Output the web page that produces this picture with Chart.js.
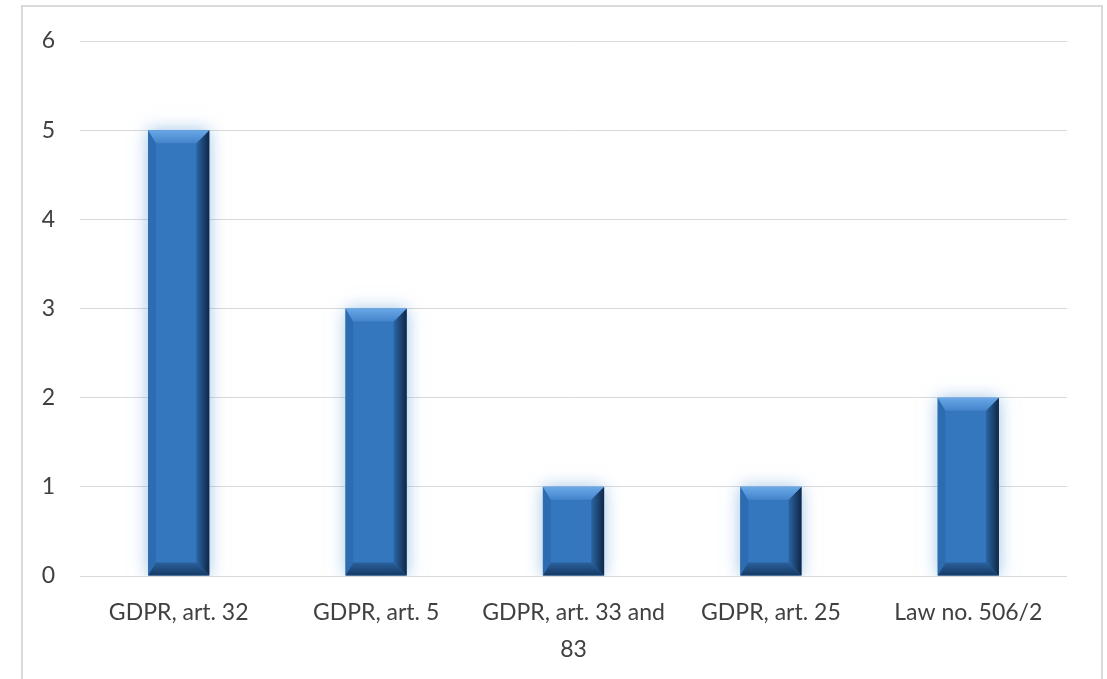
<!DOCTYPE html>
<html>
<head>
<meta charset="utf-8">
<script src="https://cdn.jsdelivr.net/npm/chart.js@4"></script>
<style>
  html, body { margin: 0; padding: 0; background: #fff; overflow: hidden; }
  #wrap { position: absolute; left: 0; top: 0; width: 1107px; height: 679px; }
  #frame { position: absolute; left: 21px; top: 5px; width: 1078px; height: 720px; border: 2px solid #d9d9d9; }
  canvas { position: absolute; left: 0; top: 0; }
</style>
</head>
<body>
<div id="wrap">
  <div id="frame"></div>
  <canvas id="grafico" width="1107" height="679"></canvas>
</div>
<script>
const categorias = [
  'GDPR, art. 32',
  'GDPR, art. 5',
  ['GDPR, art. 33 and', '83'],
  'GDPR, art. 25',
  'Law no. 506/2'
];
const valores = [5, 3, 1, 1, 2];
const ticksY = [0, 1, 2, 3, 4, 5, 6];

const fonteX = { family: 'Lato, "Noto Sans", sans-serif', size: 23, lineHeight: 1.6 };
const fonteY = { family: 'Lato, "Noto Sans", sans-serif', size: 23, lineHeight: 1.2 };

// brilho azul em volta das barras + chanfro estilo Excel
const chanfro = {
  id: 'chanfro',
  beforeDatasetsDraw(chart) {
    const ctx = chart.ctx;
    ctx.save();
    ctx.shadowColor = 'rgba(91, 155, 213, 0.6)';
    ctx.shadowBlur = 16;
  },
  afterDatasetsDraw(chart) {
    const ctx = chart.ctx;
    ctx.restore();
    const meta = chart.getDatasetMeta(0);
    meta.data.forEach(bar => {
      const L = bar.x - bar.width / 2;
      const R = bar.x + bar.width / 2;
      const T = bar.y;
      const B = bar.base;
      const b = Math.min(13, (B - T) / 3);

      let g;
      // esquerda
      ctx.fillStyle = '#2d6cb1';
      ctx.beginPath();
      ctx.moveTo(L, T); ctx.lineTo(L + b * 0.6, T + b); ctx.lineTo(L + b * 0.6, B - b); ctx.lineTo(L, B);
      ctx.closePath(); ctx.fill();

      // baixo
      g = ctx.createLinearGradient(0, B - b, 0, B);
      g.addColorStop(0, '#2a609c');
      g.addColorStop(1, '#163a64');
      ctx.fillStyle = g;
      ctx.beginPath();
      ctx.moveTo(L, B); ctx.lineTo(R, B); ctx.lineTo(R - b, B - b); ctx.lineTo(L + b * 0.6, B - b);
      ctx.closePath(); ctx.fill();

      // direita
      g = ctx.createLinearGradient(R - b, 0, R, 0);
      g.addColorStop(0, '#2b66a6');
      g.addColorStop(1, '#0f2745');
      ctx.fillStyle = g;
      ctx.beginPath();
      ctx.moveTo(R, T); ctx.lineTo(R, B); ctx.lineTo(R - b, B - b); ctx.lineTo(R - b, T + b);
      ctx.closePath(); ctx.fill();

      // topo
      g = ctx.createLinearGradient(0, T, 0, T + b);
      g.addColorStop(0, '#6aa8e6');
      g.addColorStop(1, '#4484cb');
      ctx.fillStyle = g;
      ctx.beginPath();
      ctx.moveTo(L, T); ctx.lineTo(R, T); ctx.lineTo(R - b, T + b); ctx.lineTo(L + b * 0.6, T + b);
      ctx.closePath(); ctx.fill();
    });
  }
};

new Chart(document.getElementById('grafico'), {
  type: 'bar',
  data: {
    labels: categorias,
    datasets: [{
      data: valores,
      backgroundColor: '#3477be',
      borderWidth: 0,
      barPercentage: 0.31,
      categoryPercentage: 1
    }]
  },
  options: {
    responsive: false,
    animation: false,
    events: [],
    layout: { padding: { left: 0, right: 40, top: 41, bottom: 0 } },
    plugins: { legend: { display: false }, tooltip: { enabled: false } },
    scales: {
      x: {
        grid: { display: false },
        border: { display: false },
        ticks: { color: '#404040', font: fonteX, maxRotation: 0, autoSkip: false, padding: 10 },
        afterFit(scale) { scale.height = 103; }
      },
      y: {
        min: 0,
        max: 6,
        afterBuildTicks(scale) { scale.ticks = ticksY.map(v => ({ value: v })); },
        grid: { color: '#d9d9d9', lineWidth: 1, drawTicks: false },
        border: { display: false },
        ticks: { color: '#404040', font: fonteY, padding: 25 },
        afterFit(scale) { scale.width = 80; }
      }
    }
  },
  plugins: [chanfro]
});
</script>
</body>
</html>
